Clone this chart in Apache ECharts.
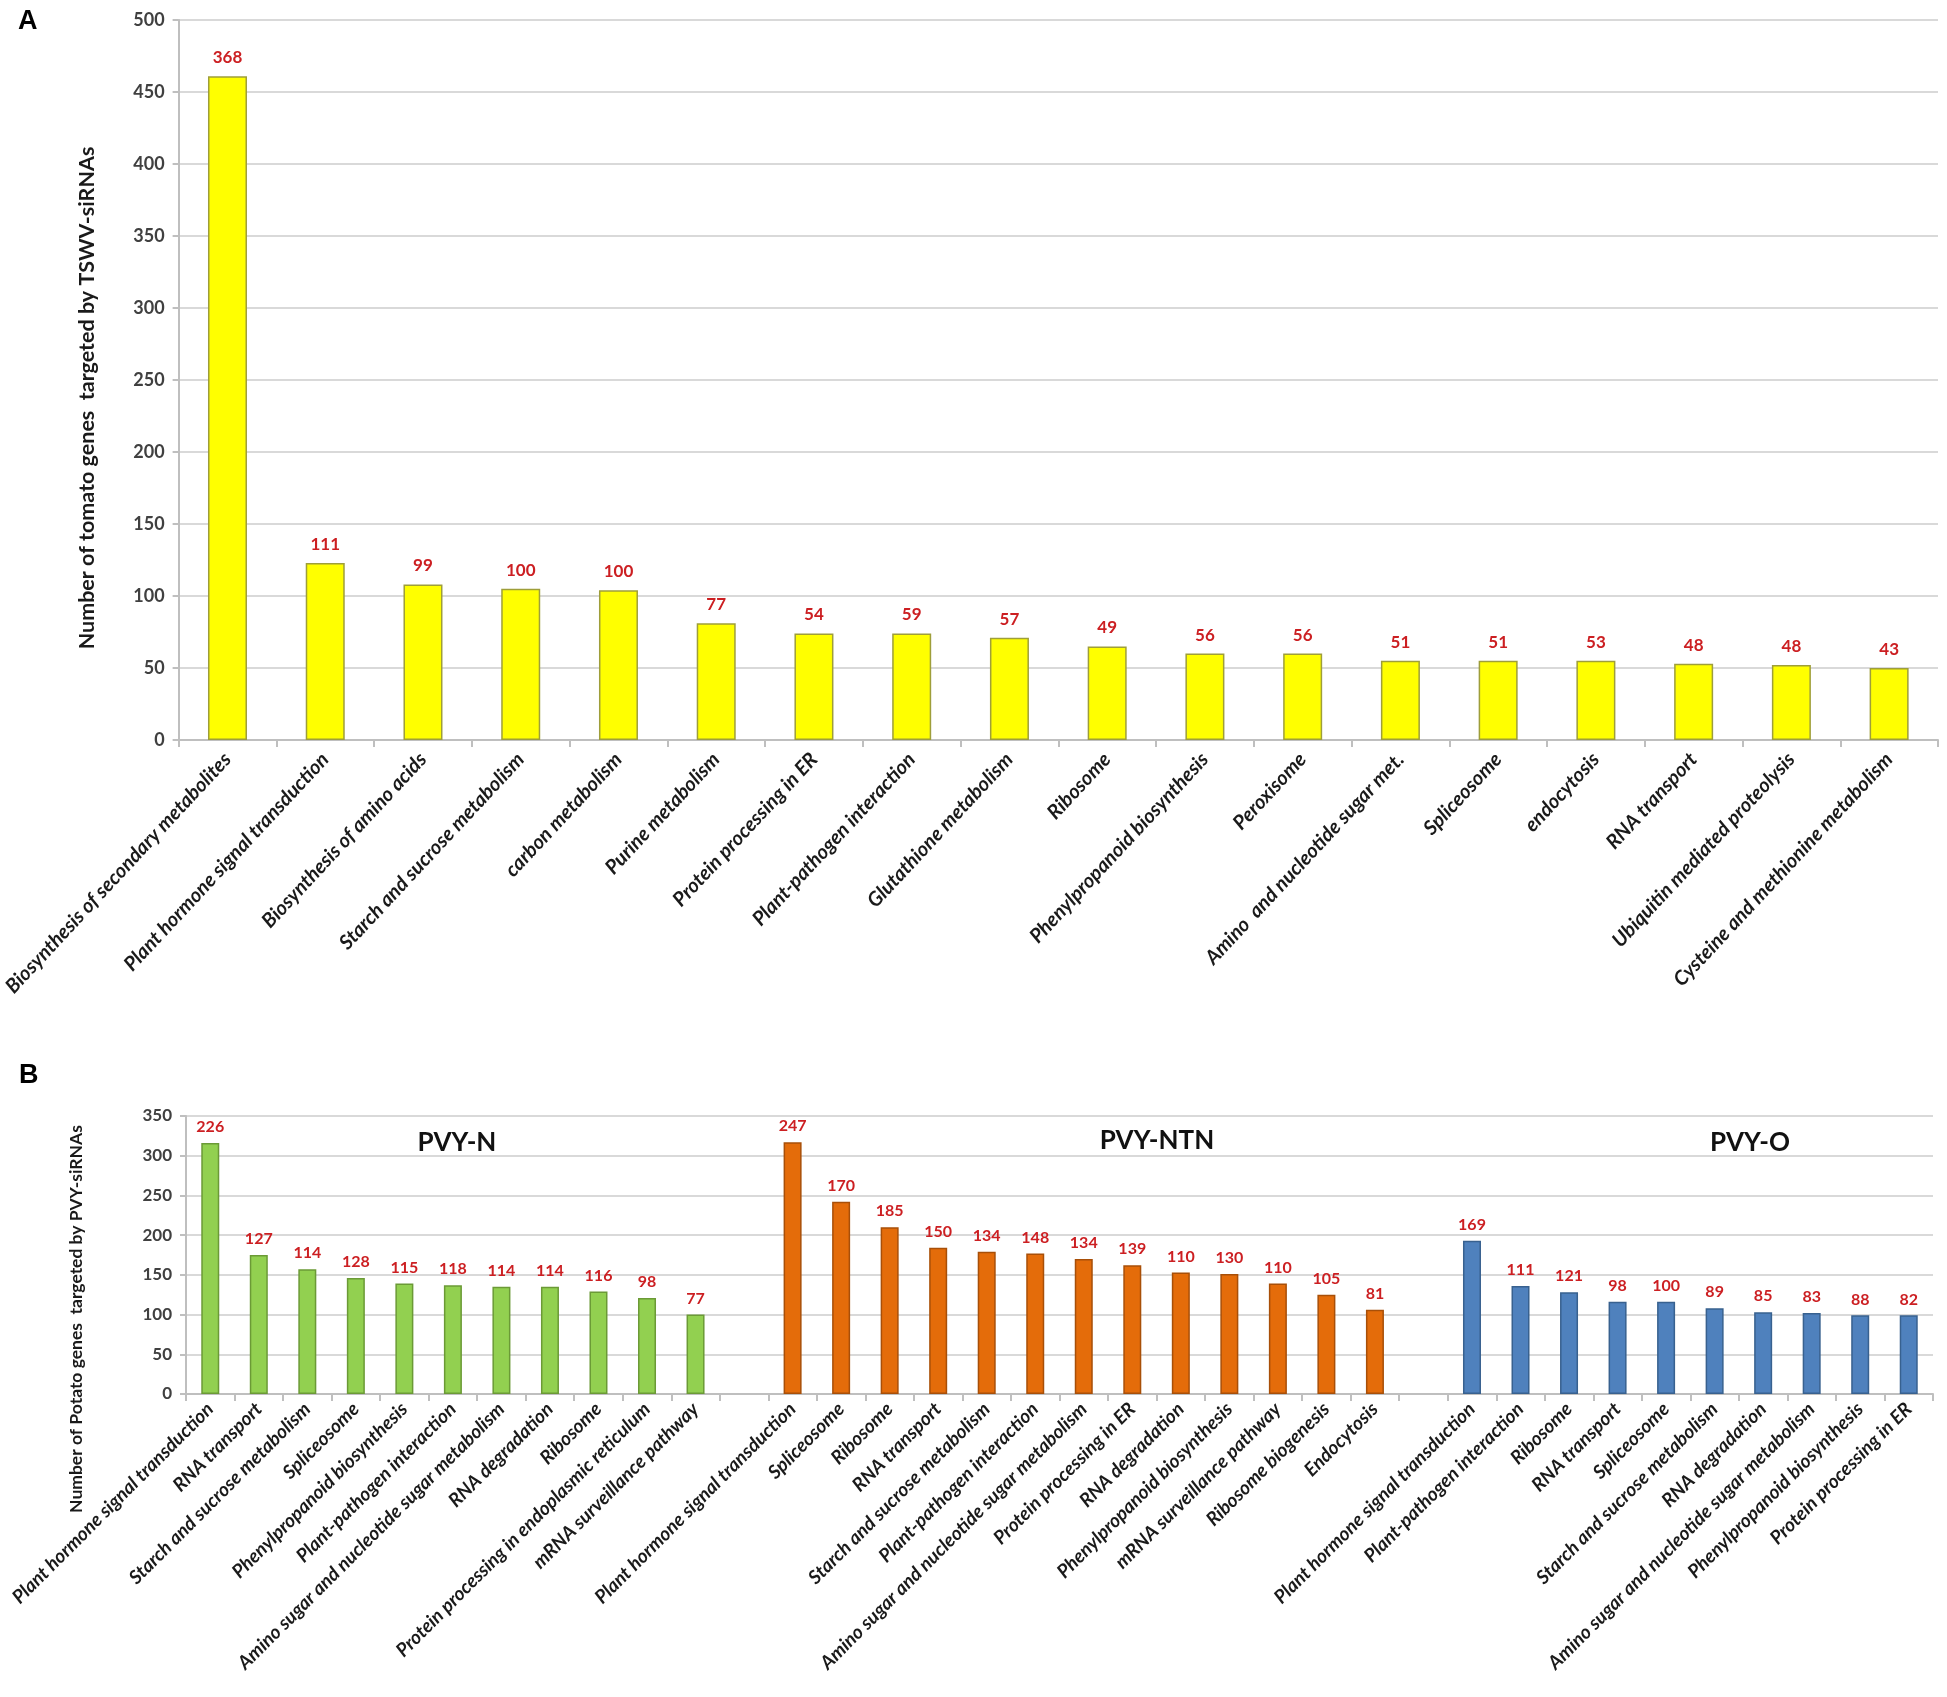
<!DOCTYPE html>
<html>
<head>
<meta charset="utf-8">
<script src="https://cdn.jsdelivr.net/npm/echarts@6/dist/echarts.min.js"></script>
<style>
  html, body { margin: 0; padding: 0; background: #fff; }
  #main { width: 1947px; height: 1697px; }
</style>
</head>
<body>
<div id="main"></div>
<script>
/*------------------------------- A: tomato / TSWV -------------------------------*/
var catA = ['Biosynthesis of secondary metabolites', 'Plant hormone signal transduction', 'Biosynthesis of amino acids',
    'Starch and sucrose metabolism', 'carbon metabolism', 'Purine metabolism', 'Protein processing in ER',
    'Plant-pathogen interaction', 'Glutathione metabolism', 'Ribosome', 'Phenylpropanoid biosynthesis', 'Peroxisome',
    'Amino  and nucleotide sugar met.', 'Spliceosome', 'endocytosis', 'RNA transport', 'Ubiquitin mediated proteolysis',
    'Cysteine and methionine metabolism'];
var valA = [461, 123, 108, 105, 104, 81, 74, 74, 71, 65, 60, 60, 55, 55, 55, 53, 52, 50];
var labA = [368, 111, 99, 100, 100, 77, 54, 59, 57, 49, 56, 56, 51, 51, 53, 48, 48, 43];

/*------------------------------- B: potato / PVY -------------------------------*/
var catN = ['Plant hormone signal transduction', 'RNA transport', 'Starch and sucrose metabolism', 'Spliceosome',
    'Phenylpropanoid biosynthesis', 'Plant-pathogen interaction', 'Amino sugar and nucleotide sugar metabolism',
    'RNA degradation', 'Ribosome', 'Protein processing in endoplasmic reticulum', 'mRNA surveillance pathway'];
var valN = [316, 175, 157, 146, 139, 137, 135, 135, 129, 121, 100];
var labN = [226, 127, 114, 128, 115, 118, 114, 114, 116, 98, 77];

var catNTN = ['Plant hormone signal transduction', 'Spliceosome', 'Ribosome', 'RNA transport',
    'Starch and sucrose metabolism', 'Plant-pathogen interaction', 'Amino sugar and nucleotide sugar metabolism',
    'Protein processing in ER', 'RNA degradation', 'Phenylpropanoid biosynthesis', 'mRNA surveillance pathway',
    'Ribosome biogenesis', 'Endocytosis'];
var valNTN = [317, 242, 210, 184, 179, 177, 170, 162, 153, 151, 139, 125, 106];
var labNTN = [247, 170, 185, 150, 134, 148, 134, 139, 110, 130, 110, 105, 81];

var catO = ['Plant hormone signal transduction', 'Plant-pathogen interaction', 'Ribosome', 'RNA transport',
    'Spliceosome', 'Starch and sucrose metabolism', 'RNA degradation', 'Amino sugar and nucleotide sugar metabolism',
    'Phenylpropanoid biosynthesis', 'Protein processing in ER'];
var valO = [193, 136, 128, 116, 116, 108, 103, 102, 99, 99];
var labO = [169, 111, 121, 98, 100, 89, 85, 83, 88, 82];

var FONT = 'Lato, "Open Sans", sans-serif';
var RED = '#cc1f22';

// build the B axis: groups separated by one empty category
var catB = [], dataB = [], labB = [];
function addGroup(cats, vals, labs, color, border, gap) {
    for (var i = 0; i < cats.length; i++) {
        catB.push(cats[i]);
        dataB.push({value: vals[i], itemStyle: {color: color, borderColor: border}});
        labB.push(labs[i]);
    }
    if (gap) {
        catB.push('');
        dataB.push('-');
        labB.push('');
    }
}
addGroup(catN, valN, labN, '#92d050', '#6b9a36', true);
addGroup(catNTN, valNTN, labNTN, '#e46c0a', '#a84f08', true);
addGroup(catO, valO, labO, '#4f81bd', '#38618f', false);

function yAxisCfg(max, size) {
    return {
        type: 'value', min: 0, max: max, interval: 50,
        axisLine: {show: true, lineStyle: {color: '#bfbfbf', width: 2}},
        axisTick: {show: true, length: 6, lineStyle: {color: '#bfbfbf', width: 2}},
        splitLine: {show: true, lineStyle: {color: '#d9d9d9', width: 2}},
        axisLabel: {color: '#404040', fontFamily: FONT, fontWeight: 'bold', fontSize: size, margin: 14}
    };
}

function xAxisCfg(cats, idx, rotate, size, margin) {
    return {
        type: 'category', gridIndex: idx, data: cats,
        axisLine: {show: true, lineStyle: {color: '#bfbfbf', width: 2}},
        axisTick: {show: true, length: 7, lineStyle: {color: '#bfbfbf', width: 2}},
        axisLabel: {
            interval: 0, rotate: rotate, margin: margin,
            color: '#1a1a1a', fontFamily: FONT, fontStyle: 'italic', fontWeight: 'bold', fontSize: size
        }
    };
}

var chart = echarts.init(document.getElementById('main'));
var yA = yAxisCfg(500, 18);
yA.gridIndex = 0;
var yB = yAxisCfg(350, 17);
yB.gridIndex = 1;

chart.setOption({
    animation: false,
    backgroundColor: '#fff',
    grid: [
        {left: 176, right: 9, top: 20, height: 720},
        {left: 186, right: 14, top: 1116, height: 278}
    ],
    xAxis: [
        xAxisCfg(catA, 0, 47, 20, 16),
        xAxisCfg(catB, 1, 45, 19, 12)
    ],
    yAxis: [yA, yB],
    graphic: [
        {type: 'text', left: 18, top: 8, style: {text: 'A', font: 'bold 27px "Liberation Sans", Arial', fill: '#000'}},
        {type: 'text', left: 19, top: 1062, style: {text: 'B', font: 'bold 27px "Liberation Sans", Arial', fill: '#000'}},
        {type: 'text', x: 87, y: 398, rotation: Math.PI / 2,
            style: {text: 'Number of tomato genes  targeted by TSWV-siRNAs', font: 'bold 21.5px ' + FONT,
                fill: '#1a1a1a', textAlign: 'center', textVerticalAlign: 'middle'}},
        {type: 'text', x: 76, y: 1319, rotation: Math.PI / 2,
            style: {text: 'Number of Potato genes  targeted by PVY-siRNAs', font: 'bold 17.5px ' + FONT,
                fill: '#1a1a1a', textAlign: 'center', textVerticalAlign: 'middle'}},
        {type: 'text', x: 457, y: 1143,
            style: {text: 'PVY-N', font: 'bold 26px ' + FONT, fill: '#111', textAlign: 'center', textVerticalAlign: 'middle'}},
        {type: 'text', x: 1157, y: 1141,
            style: {text: 'PVY-NTN', font: 'bold 26px ' + FONT, fill: '#111', textAlign: 'center', textVerticalAlign: 'middle'}},
        {type: 'text', x: 1750, y: 1143,
            style: {text: 'PVY-O', font: 'bold 26px ' + FONT, fill: '#111', textAlign: 'center', textVerticalAlign: 'middle'}}
    ],
    series: [
        {
            type: 'bar', xAxisIndex: 0, yAxisIndex: 0,
            barWidth: 39,
            data: valA,
            itemStyle: {color: '#ffff00', borderColor: '#9e9e3a', borderWidth: 1.5},
            label: {
                show: true, position: 'top', distance: 10,
                color: RED, fontFamily: FONT, fontWeight: 'bold', fontSize: 17,
                formatter: function (p) { return labA[p.dataIndex]; }
            }
        },
        {
            type: 'bar', xAxisIndex: 1, yAxisIndex: 1,
            barWidth: 18,
            data: dataB,
            itemStyle: {borderWidth: 1.5},
            label: {
                show: true, position: 'top', distance: 8,
                color: RED, fontFamily: FONT, fontWeight: 'bold', fontSize: 16,
                formatter: function (p) { return labB[p.dataIndex]; }
            }
        }
    ]
});
</script>
</body>
</html>
